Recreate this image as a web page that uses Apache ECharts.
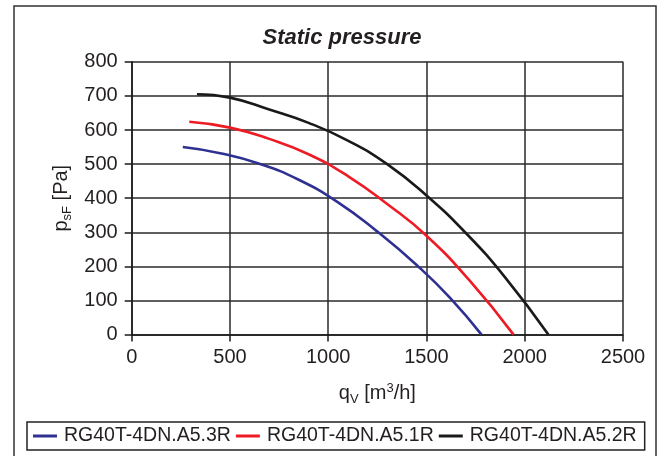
<!DOCTYPE html>
<html>
<head>
<meta charset="utf-8">
<script src="https://cdn.jsdelivr.net/npm/echarts@6/dist/echarts.min.js"></script>
<style>
  html, body { margin: 0; padding: 0; background: #fff; }
  #chart { width: 661px; height: 456px; }
</style>
</head>
<body>
<div id="chart"></div>
<script>
// fan curves
const seriesNames = ["RG40T-4DN.A5.3R", "RG40T-4DN.A5.1R", "RG40T-4DN.A5.2R"];
const seriesColors = ["#2e3192", "#ed1c24", "#1a1a1a"];

const qBlue = [260, 450, 650, 850, 1050, 1250, 1450, 1620, 1780];
const pBlue = [550, 532, 501, 454, 388, 302, 204, 108, 0];

const qRed = [293, 500, 700, 900, 1100, 1300, 1500, 1720, 1943];
const pRed = [624, 607, 574, 529, 465, 383, 290, 158, 0];

const qBlack = [332, 500, 700, 900, 1100, 1300, 1500, 1700, 1900, 2120];
const pBlack = [705, 695, 660, 621, 569, 500, 408, 298, 168, 0];

const xTicks = [0, 500, 1000, 1500, 2000, 2500];
const yTicks = [0, 100, 200, 300, 400, 500, 600, 700, 800];

const textColor = "#231f20";
const font = "Liberation Sans, Arial, sans-serif";

function pairs(xs, ys) {
  return xs.map((x, i) => [x, ys[i]]);
}

const curves = [pairs(qBlue, pBlue), pairs(qRed, pRed), pairs(qBlack, pBlack)];

const chart = echarts.init(document.getElementById("chart"));

const option = {
  backgroundColor: "#fff",
  animation: false,
  textStyle: { fontFamily: font, color: textColor },
  title: {
    text: "Static pressure",
    left: 337,
    top: 22,
    textAlign: "center",
    textStyle: {
      fontFamily: font,
      fontSize: 22,
      fontWeight: "bold",
      fontStyle: "italic",
      color: textColor
    }
  },
  graphic: [
    {
      type: "rect",
      shape: { x: 14, y: 6, width: 642, height: 460 },
      style: { fill: null, stroke: "#333", lineWidth: 1.5 },
      silent: true
    }
  ],
  grid: {
    left: 131.7,
    right: 38,
    top: 61.8,
    bottom: 121.4,
    containLabel: false
  },
  legend: {
    left: 27,
    top: 422,
    width: 632,
    padding: [4, 8, 4, 6],
    borderColor: "#222",
    borderWidth: 1.5,
    itemGap: 5,
    itemWidth: 24,
    itemHeight: 3,
    icon: "rect",
    textStyle: { fontFamily: font, fontSize: 19.5, color: textColor, padding: [0, 0, 0, 2] },
    data: seriesNames
  },
  xAxis: {
    type: "value",
    min: 0,
    max: 2500,
    interval: 500,
    name: "{b|q}{s|V}{b| [m}{u|3}{b|/h]}",
    nameLocation: "middle",
    nameGap: 47,
    nameTextStyle: {
      fontFamily: font,
      color: textColor,
      rich: {
        b: { fontSize: 20, lineHeight: 24, fontFamily: font, color: textColor },
        s: { fontSize: 13, lineHeight: 15, verticalAlign: "bottom", fontFamily: font, color: textColor },
        u: { fontSize: 13, lineHeight: 13, verticalAlign: "top", fontFamily: font, color: textColor }
      }
    },
    axisLine: { show: true, lineStyle: { color: "#1a1a1a", width: 1.5 } },
    axisTick: { show: true, inside: false, length: 7, lineStyle: { color: "#1a1a1a", width: 1.5 } },
    axisLabel: {
      margin: 13,
      fontSize: 20,
      fontFamily: font,
      color: textColor,
      formatter: (v) => String(v),
      customValues: xTicks
    },
    splitLine: { show: true, lineStyle: { color: "#2a2a2a", width: 1.5 } }
  },
  yAxis: {
    type: "value",
    min: 0,
    max: 800,
    interval: 100,
    name: "{b|p}{s|sF}{b| [Pa]}",
    nameLocation: "middle",
    nameRotate: 90,
    nameGap: 57,
    nameTextStyle: {
      fontFamily: font,
      color: textColor,
      rich: {
        b: { fontSize: 20, lineHeight: 24, fontFamily: font, color: textColor },
        s: { fontSize: 13, lineHeight: 15, verticalAlign: "bottom", fontFamily: font, color: textColor }
      }
    },
    axisLine: { show: true, lineStyle: { color: "#1a1a1a", width: 1.5 } },
    axisTick: { show: true, inside: false, length: 7, lineStyle: { color: "#1a1a1a", width: 1.5 } },
    axisLabel: {
      margin: 14,
      fontSize: 20,
      fontFamily: font,
      color: textColor,
      formatter: (v) => String(v),
      customValues: yTicks
    },
    splitLine: { show: true, lineStyle: { color: "#2a2a2a", width: 1.5 } }
  },
  series: seriesNames.map((name, i) => ({
    name: name,
    type: "line",
    data: curves[i],
    smooth: 0.5,
    showSymbol: false,
    symbol: "none",
    color: seriesColors[i],
    lineStyle: { color: seriesColors[i], width: 2.6 },
    z: 3
  }))
};

chart.setOption(option);
</script>
</body>
</html>
